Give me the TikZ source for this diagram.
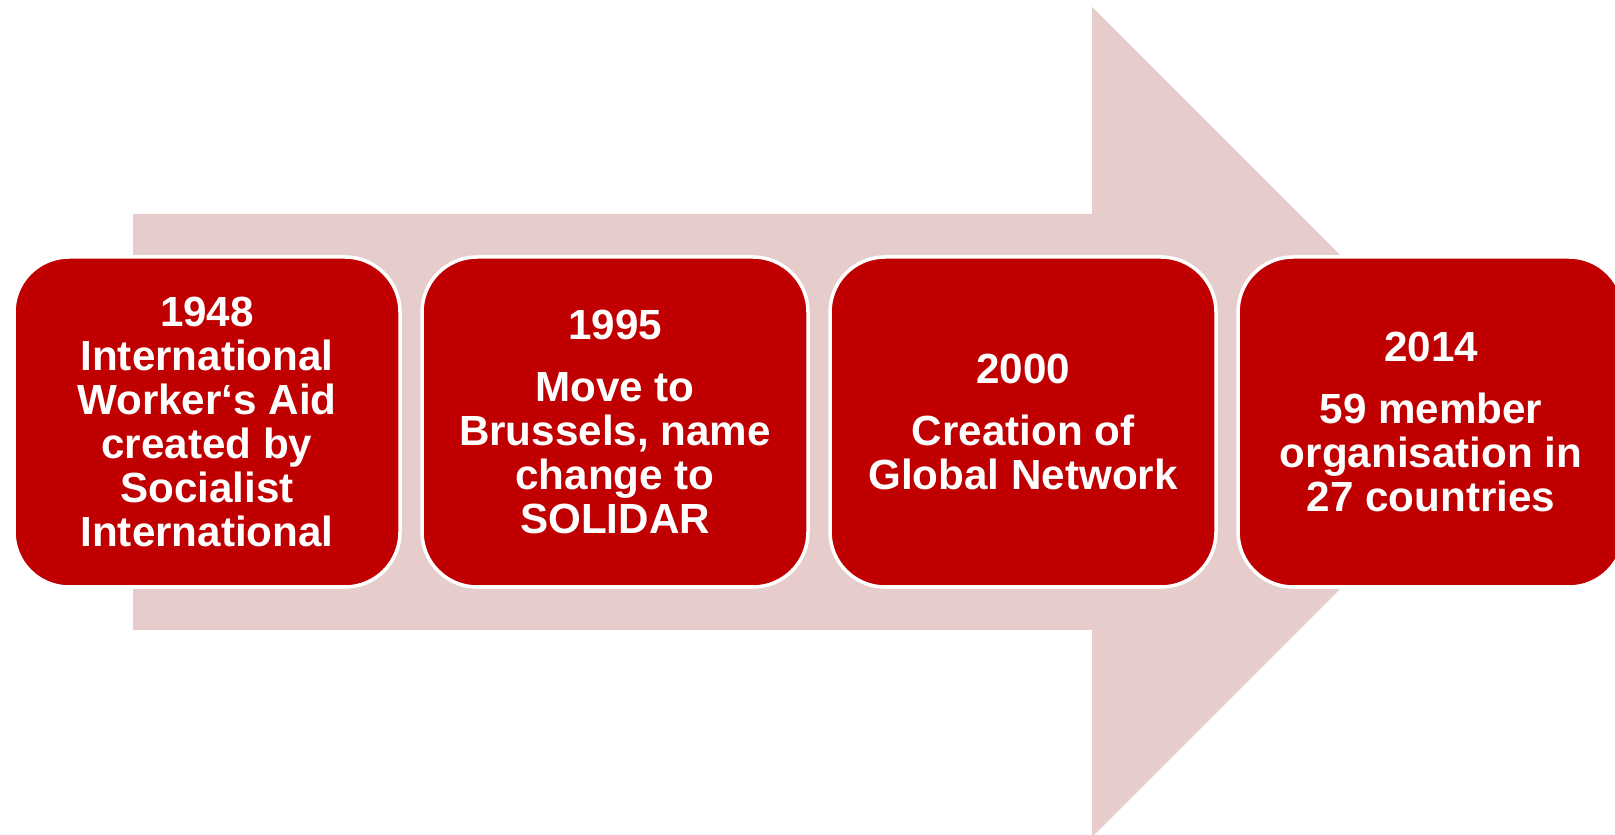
\documentclass[tikz,border=0pt]{standalone}
\usepackage{fontspec}
\setmainfont{Liberation Sans}
\usepackage{xcolor}
\usepackage{tikz}
\usetikzlibrary{positioning}

\definecolor{boxred}{RGB}{192,0,0}
\definecolor{arrowpink}{RGB}{231,204,204}

\begin{document}
\begin{tikzpicture}[
    event/.style={draw=white, line width=1pt, fill=boxred, text=white,
        rounded corners=0.55cm, minimum width=3.86cm, minimum height=3.30cm,
        outer sep=0pt, inner sep=0pt, align=center,
        font=\fontsize{12}{12.5}\selectfont\bfseries},
    node distance=0.22cm
]
    \useasboundingbox (0,0) rectangle (16.15,8.35);
    \clip (0,0) rectangle (16.15,8.35);

    % big background arrow
    \fill[arrowpink] (1.33,2.05) -- (1.33,6.21) -- (10.92,6.21) -- (10.92,8.28)
        -- (15.07,4.13) -- (10.92,-0.02) -- (10.92,2.05) -- cycle;

    % milestones
    \node[event] (y1948) at (2.07,4.13)
        {1948\\International\\Worker‘s Aid\\created by\\Socialist\\International};
    \node[event, right=of y1948] (y1995)
        {1995\\[5pt]Move to\\Brussels, name\\change to\\SOLIDAR};
    \node[event, right=of y1995] (y2000)
        {2000\\[5pt]Creation of\\Global Network};
    \node[event, right=of y2000] (y2014)
        {2014\\[5pt]59 member\\organisation in\\27 countries};
\end{tikzpicture}
\end{document}
